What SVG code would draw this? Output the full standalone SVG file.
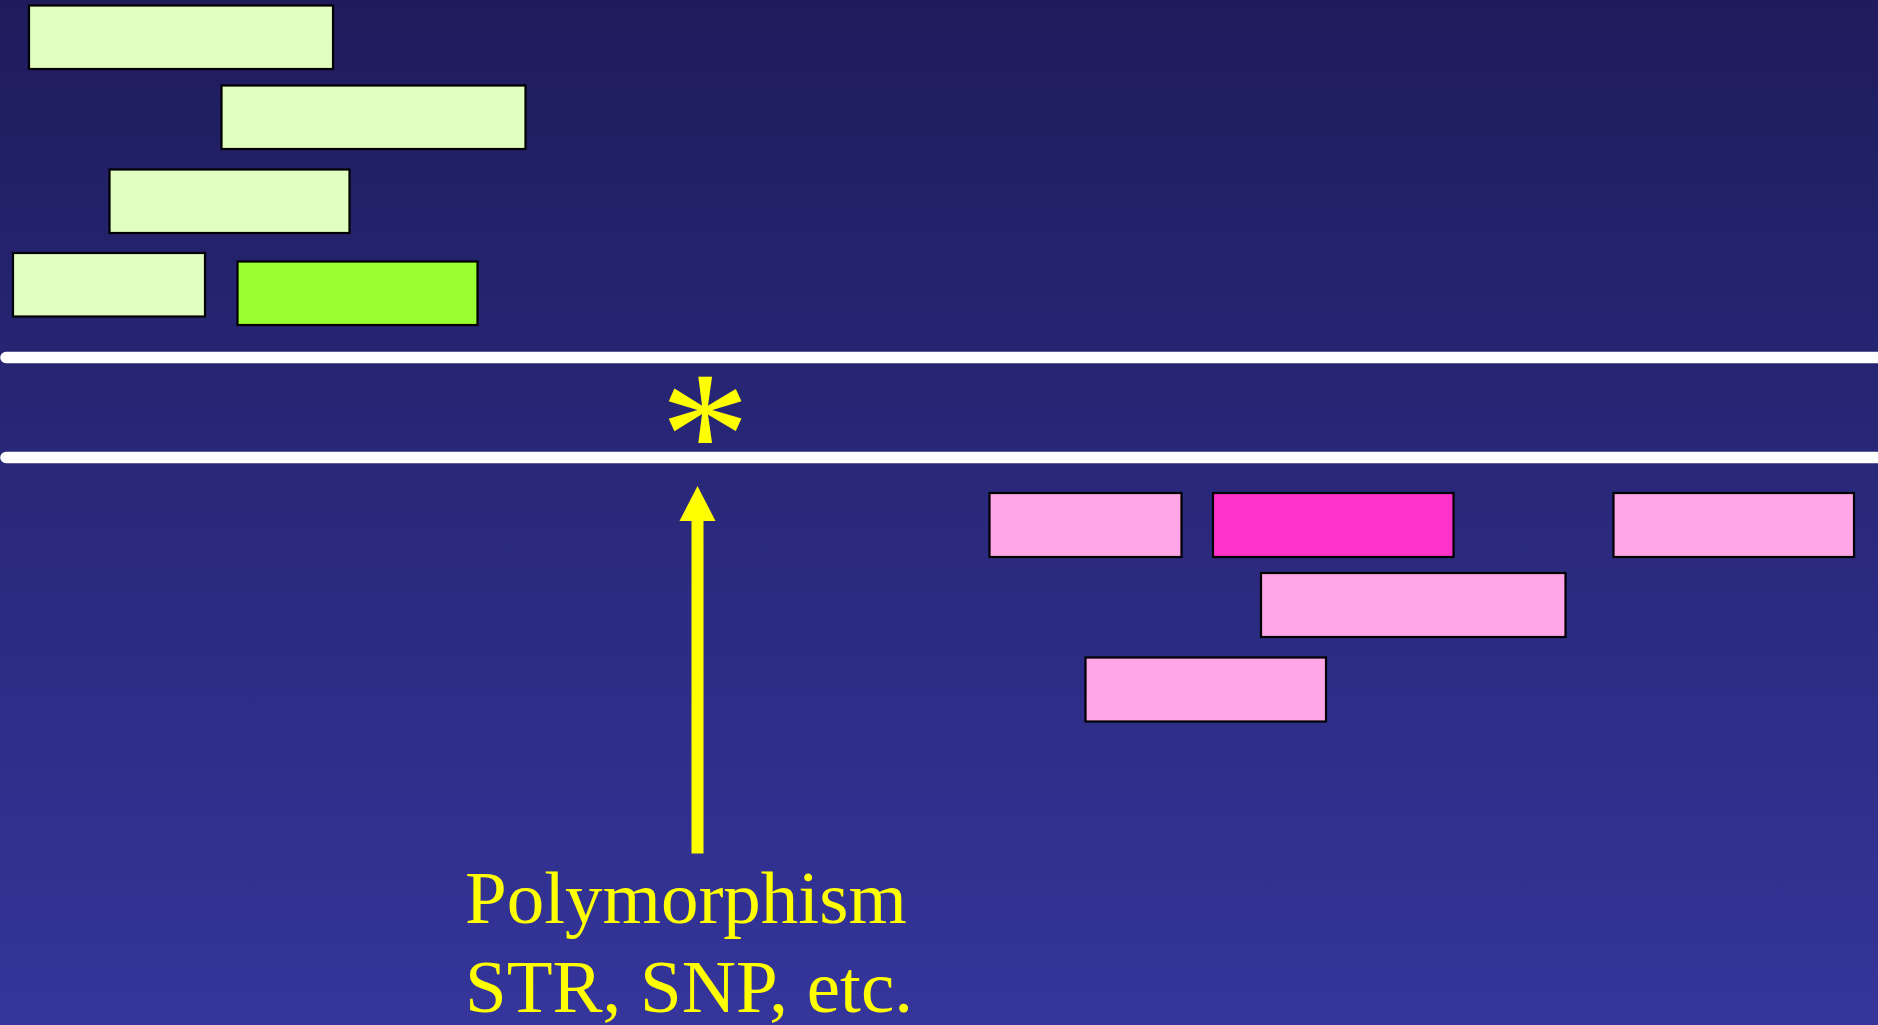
<svg xmlns="http://www.w3.org/2000/svg" width="1878" height="1025" viewBox="0 0 1878 1025">
  <defs>
    <linearGradient id="bg" x1="0" y1="0" x2="0" y2="1">
      <stop offset="0" stop-color="#1e1c5c"/>
      <stop offset="1" stop-color="#35359b"/>
    </linearGradient>
    <style>
      .frag { stroke: #000000; stroke-width: 2.2; }
      .lg { fill: #e0ffc0; }
      .dg { fill: #99ff33; }
      .lp { fill: #ffa6e6; }
      .dp { fill: #ff33cc; }
      .strand { stroke: #ffffff; stroke-width: 11.5; stroke-linecap: round; fill: none; }
      .lbl { font-family: "Liberation Serif", "Times New Roman", serif; fill: #ffff00; }
      .arrow { fill: #ffff00; }
    </style>
  </defs>
  <rect x="0" y="0" width="1878" height="1025" fill="url(#bg)"/>

  <g id="strands">
    <line class="strand" x1="6" y1="357.5" x2="1900" y2="357.5"/>
    <line class="strand" x1="6" y1="457.5" x2="1900" y2="457.5"/>
  </g>

  <g id="green-fragments">
    <g id="g1"><rect class="frag lg" x="29" y="5.5" width="304" height="63.5"/></g>
    <g id="g2"><rect class="frag lg" x="221.5" y="85.5" width="304" height="63.5"/></g>
    <g id="g3"><rect class="frag lg" x="109.5" y="169.5" width="240" height="63.5"/></g>
    <g id="g4"><rect class="frag lg" x="13" y="253" width="192" height="63.5"/></g>
    <g id="g5"><rect class="frag dg" x="237.5" y="261.5" width="240" height="63.5"/></g>
  </g>

  <g id="pink-fragments">
    <g id="p1"><rect class="frag lp" x="989.5" y="493" width="192" height="64"/></g>
    <g id="p2"><rect class="frag dp" x="1213" y="493" width="240.5" height="64"/></g>
    <g id="p3"><rect class="frag lp" x="1613.5" y="493" width="240.5" height="64"/></g>
    <g id="p4"><rect class="frag lp" x="1261" y="573" width="304.5" height="64"/></g>
    <g id="p5"><rect class="frag lp" x="1085.5" y="657.5" width="240.5" height="64"/></g>
  </g>

  <g id="mark">
    <text class="lbl" x="705" y="495" font-size="180" text-anchor="middle">*</text>
  </g>

  <g id="connectors">
    <g id="arrow">
      <rect class="arrow" x="691.5" y="519" width="12" height="334.5"/>
      <polygon class="arrow" points="697.5,486 715.5,521 679.5,521"/>
    </g>
  </g>

  <g id="label">
    <text class="lbl" x="465" y="923" font-size="75">Polymorphism</text>
    <text class="lbl" x="465" y="1012" font-size="75">STR, SNP, etc.</text>
  </g>
</svg>
